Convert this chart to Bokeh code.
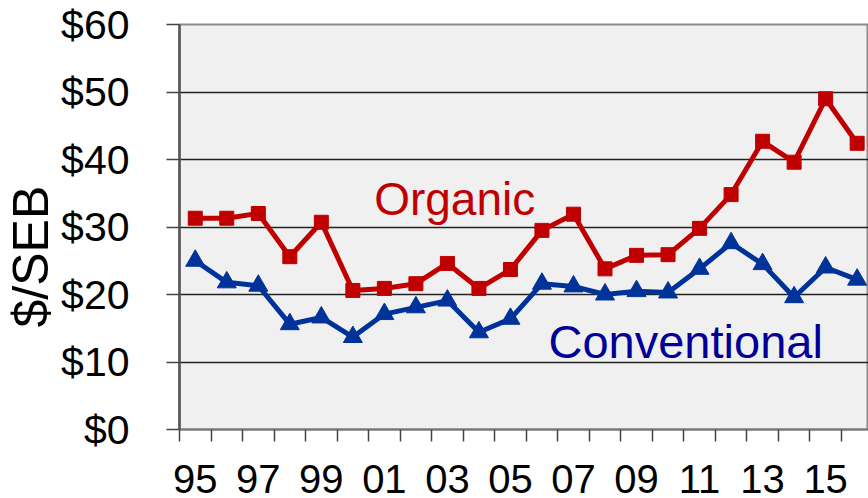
from bokeh.plotting import figure
from bokeh.models import FixedTicker, Range1d, Label, ColumnDataSource, Title
from bokeh.embed import file_html
from bokeh.resources import INLINE

years = ["95", "96", "97", "98", "99", "00", "01", "02", "03", "04", "05",
         "06", "07", "08", "09", "10", "11", "12", "13", "14", "15", "16"]
organic = [31.3, 31.3, 32.0, 25.6, 30.7, 20.6, 20.9, 21.6, 24.6, 20.9, 23.7,
           29.5, 31.9, 23.8, 25.8, 25.9, 29.8, 34.8, 42.7, 39.6, 49.0, 42.4]
conventional = [25.0, 21.8, 21.3, 15.6, 16.6, 13.7, 17.1, 18.1, 19.1, 14.4, 16.4,
                21.6, 21.2, 20.0, 20.5, 20.3, 23.8, 27.6, 24.5, 19.6, 24.0, 22.2]
y_ticks = [0, 10, 20, 30, 40, 50, 60]
y_tick_labels = ["$0", "$10", "$20", "$30", "$40", "$50", "$60"]

FONT = "Liberation Sans"
RED = "#c00000"
BLUE = "#003399"

idx = list(range(len(years)))
src = ColumnDataSource(dict(x=idx, org=organic, conv=conventional))

p = figure(width=868, height=498, output_backend="svg", toolbar_location=None,
           x_range=Range1d(-0.5, 21.36), y_range=Range1d(0, 60),
           min_border_left=178, min_border_right=0, min_border_top=24,
           min_border_bottom=69)
p.background_fill_color = "#f0f0f0"
p.border_fill_color = "white"
p.outline_line_color = "#8a8a8a"
p.outline_line_width = 2

# grid
p.xgrid.visible = False
p.ygrid.ticker = FixedTicker(ticks=y_ticks[1:-1])
p.ygrid.grid_line_color = "#222222"
p.ygrid.grid_line_width = 1.5

# y axis
p.yaxis.ticker = FixedTicker(ticks=y_ticks)
p.yaxis.major_label_overrides = {t: l for t, l in zip(y_ticks, y_tick_labels)}
p.yaxis.major_tick_out = 13
p.yaxis.major_tick_in = 0
p.yaxis.minor_tick_out = 0
p.yaxis.minor_tick_in = 0
p.yaxis.axis_line_color = "#555555"
p.yaxis.axis_line_width = 2.5
p.yaxis.major_tick_line_color = "#444444"
p.yaxis.major_tick_line_width = 1.5
p.yaxis.major_label_text_font = FONT
p.yaxis.major_label_text_font_size = "41px"
p.yaxis.major_label_text_color = "black"
p.yaxis.major_label_standoff = 37

# x axis
label_idx = idx[0::2]
boundaries = [i - 0.5 for i in range(len(years) + 1)]
p.xaxis.ticker = FixedTicker(ticks=label_idx, minor_ticks=boundaries)
p.xaxis.major_label_overrides = {i: years[i] for i in label_idx}
p.xaxis.major_tick_out = 0
p.xaxis.major_tick_in = 0
p.xaxis.minor_tick_out = 12
p.xaxis.minor_tick_in = 0
p.xaxis.minor_tick_line_color = "#444444"
p.xaxis.minor_tick_line_width = 1.5
p.xaxis.axis_line_color = "#777777"
p.xaxis.axis_line_width = 2
p.xaxis.major_label_text_font = FONT
p.xaxis.major_label_text_font_size = "40px"
p.xaxis.major_label_text_color = "black"
p.xaxis.major_label_standoff = 23

# series
p.line("x", "org", source=src, line_color=RED, line_width=5)
p.scatter("x", "org", source=src, marker="square", size=14,
          fill_color=RED, line_color=RED)
p.line("x", "conv", source=src, line_color=BLUE, line_width=5)
p.scatter("x", "conv", source=src, marker="triangle", size=19,
          fill_color=BLUE, line_color=BLUE)

# series labels
p.add_layout(Label(x=8.23, y=34.2, text="Organic", text_font=FONT,
                   text_font_size="46px", text_color=RED,
                   text_align="center", text_baseline="alphabetic"))
p.add_layout(Label(x=15.56, y=13.1, text="Conventional", text_font=FONT,
                   text_font_size="47px", text_color="#000099",
                   text_align="center", text_baseline="alphabetic"))

# axis title
p.add_layout(Title(text="$/SEB", text_font=FONT, text_font_size="50px",
                   text_color="black", text_font_style="normal",
                   align="left", offset=102, standoff=0), "left")

open("out.html", "w").write(file_html(p, INLINE))
